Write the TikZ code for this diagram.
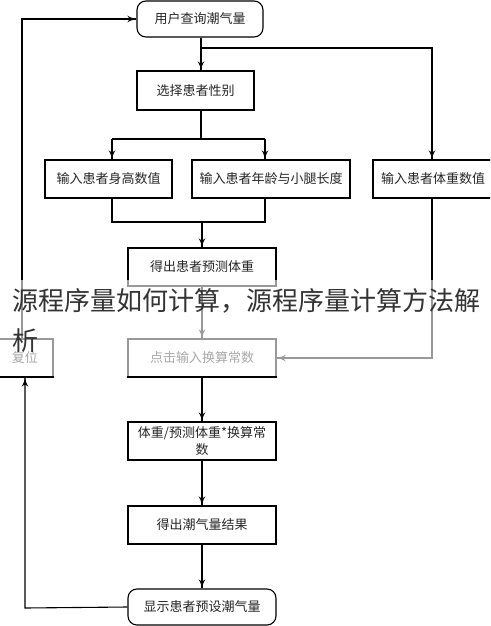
\documentclass[tikz,border=0pt]{standalone}
\usepackage{fontspec}
\newfontfamily\cjk{Noto Sans CJK SC}
\usetikzlibrary{arrows}
\usetikzlibrary{decorations.markings}
\tikzset{->/.style = {decoration={markings,
                                  mark=at position 1 with {\arrow[scale=1.5]{latex'}}},
                      postaction={decorate}}}
\tikzset{box/.style = {draw, line width = 1.1pt, inner sep = 0, minimum height = 38,
                       font = \cjk\fontsize{13}{17}\selectfont, text = black!85}}
\tikzset{roundbox/.style = {box, rounded corners = 9}}
\begin{document}
\begin{tikzpicture}[x=1pt, y=-1pt, line width=1.1pt]
      \useasboundingbox (0, 0) rectangle (490, 626);
      \clip (0, 0) rectangle (490, 626);
      \node (query) at (200, 19) [roundbox, minimum width = 126, minimum height = 36] {用户查询潮气量};
      \node (sex) at (195.5, 90.5) [box, minimum width = 117, minimum height = 39] {选择患者性别};
      \node (height) at (108.5, 179) [box, minimum width = 127] {输入患者身高数值};
      \node (age) at (271, 179) [box, minimum width = 158] {输入患者年龄与小腿长度};
      \node (weight) at (433, 179) [box, minimum width = 120] {输入患者体重数值};
      \node (pred) at (202, 267) [box, minimum width = 148] {得出患者预测体重};
      \node (const) at (202, 358) [box, minimum width = 148] {点击输入换算常数};
      \node (reset) at (25, 358) [box, minimum width = 56] {复位};
      \node (ratio) at (202, 441) [box, minimum width = 148, align = center] {体重/预测体重*换算常\\数};
      \node (tidal) at (202, 525) [box, minimum width = 148] {得出潮气量结果};
      \node (show) at (202, 607) [roundbox, minimum width = 148, minimum height = 36] {显示患者预设潮气量};

      \coordinate (fork) at (201, 48);
      \coordinate (splitl) at (112, 139);
      \coordinate (splitr) at (265, 139);
      \coordinate (joinl) at (112, 222);
      \coordinate (joinr) at (265, 222);
      \coordinate (join) at (202, 222);
      \coordinate (bend) at (432, 358);
      \coordinate (back) at (25, 608);
      \coordinate (loop) at (22, 19);

      \draw [->] (query.south -| fork) -- (sex.north -| fork);
      \draw [->] (fork) -| (weight.north -| bend);
      \draw (sex.south -| fork) -- (fork |- splitl);
      \draw (splitl) -- (splitr);
      \draw [->] (splitl) -- (splitl |- height.north);
      \draw [->] (splitr) -- (splitr |- age.north);
      \draw (height.south -| joinl) -- (joinl) -- (joinr) -- (age.south -| joinr);
      \draw [->] (join) -- (pred.north);
      \draw [->] (pred.south) -- (const.north);
      \draw [->] (weight.south -| bend) -- (bend) -- (const.east);
      \draw [->] (const.south) -- (ratio.north);
      \draw [->] (ratio.south) -- (tidal.north);
      \draw [->] (tidal.south) -- (show.north);
      \draw [->] (show.west) -- (back) -- (reset.south);
      \draw [->] (reset.north -| loop) -- (loop) -- (query.west);

      % title band over the chart
      \fill [white, opacity = 0.6] (0, 280) rectangle (490, 376);
      \node (title) at (12, 310) [anchor = base west, inner sep = 0,
            font = \cjk\fontsize{26}{40}\selectfont, text = black!80] {源程序量如何计算，源程序量计算方法解};
      \node (titleend) at (12, 350) [anchor = base west, inner sep = 0,
            font = \cjk\fontsize{26}{40}\selectfont, text = black!80] {析};
    \end{tikzpicture}
\end{document}
